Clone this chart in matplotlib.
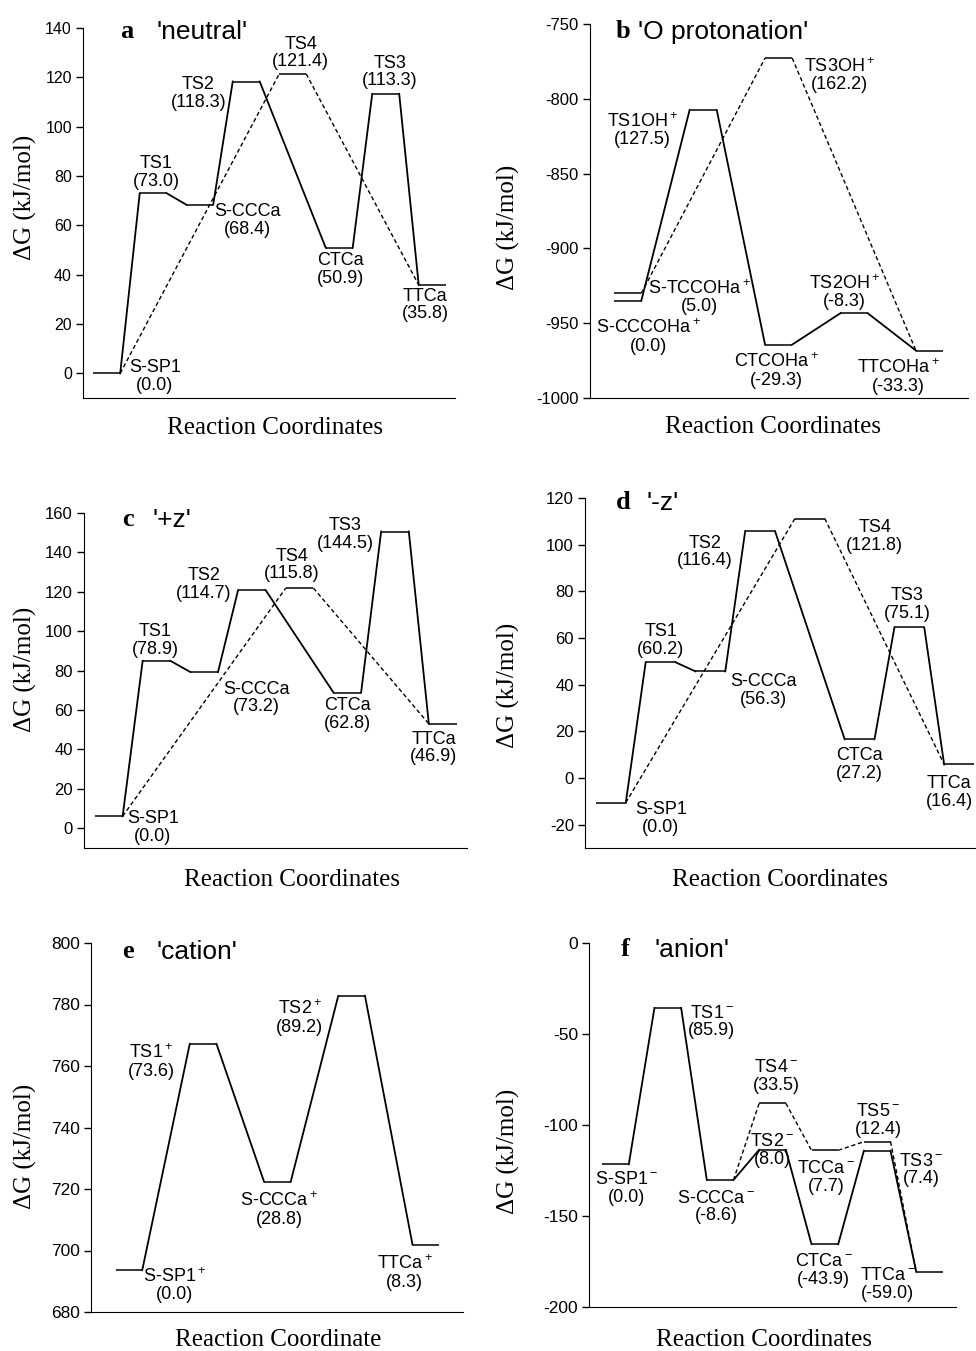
import matplotlib.pyplot as plt

plt.rcParams['font.family'] = ['Liberation Sans', 'DejaVu Sans']
plt.rcParams['mathtext.fontset'] = 'custom'
plt.rcParams['mathtext.rm'] = 'Liberation Sans'
plt.rcParams['mathtext.it'] = 'Liberation Sans:italic'
plt.rcParams['mathtext.bf'] = 'Liberation Sans:bold'
plt.rcParams['axes.unicode_minus'] = False

# ---- data: names, relative energies (labels), drawn level heights, slot index ----
# a 'neutral'
a_names = ['S-SP1', 'TS1', 'S-CCCa', 'TS2', 'TS4', 'CTCa', 'TS3', 'TTCa']
a_rel = [0.0, 73.0, 68.4, 118.3, 121.4, 50.9, 113.3, 35.8]
a_level = [0.0, 73.0, 68.4, 118.3, 121.4, 50.9, 113.3, 35.8]
a_slot = [0, 1, 2, 3, 4, 5, 6, 7]
a_solid = [[0, 1, 2, 3, 5, 6, 7]]
a_dashed = [[0, 4, 7]]
a_ticks = [0, 20, 40, 60, 80, 100, 120, 140]

# b 'O protonation'
b_names = ['S-CCCOHa$^+$', 'S-TCCOHa$^+$', 'TS1OH$^+$', 'TS3OH$^+$',
           'CTCOHa$^+$', 'TS2OH$^+$', 'TTCOHa$^+$']
b_rel = [0.0, 5.0, 127.5, 162.2, -29.3, -8.3, -33.3]
b_level = [-935.0, -930.0, -807.5, -772.8, -964.3, -943.3, -968.3]
b_slot = [0, 0, 1, 2, 2, 3, 4]
b_solid = [[0, 2, 4, 5, 6]]
b_dashed = [[1, 3, 6]]
b_ticks = [-1000, -950, -900, -850, -800, -750]

# c '+z'
c_names = ['S-SP1', 'TS1', 'S-CCCa', 'TS2', 'TS4', 'CTCa', 'TS3', 'TTCa']
c_rel = [0.0, 78.9, 73.2, 114.7, 115.8, 62.8, 144.5, 46.9]
c_level = [6.1, 85.0, 79.3, 120.8, 121.9, 68.9, 150.6, 53.0]
c_slot = [0, 1, 2, 3, 4, 5, 6, 7]
c_solid = [[0, 1, 2, 3, 5, 6, 7]]
c_dashed = [[0, 4, 7]]
c_ticks = [0, 20, 40, 60, 80, 100, 120, 140, 160]

# d '-z'
d_names = ['S-SP1', 'TS1', 'S-CCCa', 'TS2', 'TS4', 'CTCa', 'TS3', 'TTCa']
d_rel = [0.0, 60.2, 56.3, 116.4, 121.8, 27.2, 75.1, 16.4]
d_level = [-10.6, 49.6, 45.7, 105.8, 111.2, 16.6, 64.5, 5.8]
d_slot = [0, 1, 2, 3, 4, 5, 6, 7]
d_solid = [[0, 1, 2, 3, 5, 6, 7]]
d_dashed = [[0, 4, 7]]
d_ticks = [-20, 0, 20, 40, 60, 80, 100, 120]

# e 'cation'
e_names = ['S-SP1$^+$', 'TS1$^+$', 'S-CCCa$^+$', 'TS2$^+$', 'TTCa$^+$']
e_rel = [0.0, 73.6, 28.8, 89.2, 8.3]
e_level = [693.6, 767.2, 722.4, 782.8, 701.9]
e_slot = [0, 1, 2, 3, 4]
e_solid = [[0, 1, 2, 3, 4]]
e_dashed = []
e_ticks = [680, 700, 720, 740, 760, 780, 800]

# f 'anion'
f_names = ['S-SP1$^-$', 'TS1$^-$', 'S-CCCa$^-$', 'TS4$^-$', 'TS2$^-$',
           'TCCa$^-$', 'CTCa$^-$', 'TS5$^-$', 'TS3$^-$', 'TTCa$^-$']
f_rel = [0.0, 85.9, -8.6, 33.5, 8.0, 7.7, -43.9, 12.4, 7.4, -59.0]
f_level = [-121.6, -35.7, -130.2, -88.1, -113.6, -113.9, -165.5, -109.2, -114.2, -180.6]
f_slot = [0, 1, 2, 3, 3, 4, 4, 5, 5, 6]
f_solid = [[0, 1, 2, 4, 6, 8, 9]]
f_dashed = [[2, 3, 5, 7, 9]]
f_ticks = [-200, -150, -100, -50, 0]

# ---- layout: label offsets (pixels) from the middle of each level ----
a_off = [(48, -3), (3, 21), (48, -16), (-48, -12), (8, 21), (1, -22), (4, 22), (-7, -20)]
b_off = [(21, -36), (72, -4), (-61, -20), (61, -17), (-2, -26), (-10, 21), (-31, -26)]
c_off = [(44, -11), (-1, 20), (52, -26), (-48, 6), (-8, 23), (0, -22), (-50, -3), (-9, -24)]
d_off = [(50, -16), (0, 22), (53, -19), (-55, -21), (65, -18), (0, -25), (-2, 23), (-10, -28)]
e_off = [(46, -15), (-52, -18), (2, -28), (-52, -22), (-21, -28)]
f_off = [(11, -24), (44, -14), (-4, -27), (4, 27), (0, -1), (1, -27), (-1, -26),
         (1, 21), (44, -19), (-42, -13)]

fig = plt.figure(figsize=(9.76, 13.51), dpi=100)


def px_axes(l, t, r, b):
    return fig.add_axes([l / 976, 1 - b / 1351, (r - l) / 976, (b - t) / 1351])


def fig_text(x, y, s, **kw):
    fig.text(x / 976, 1 - y / 1351, s, ha='center', va='center', **kw)


panels = [
    # box, xlim, ylim, width, names, rel, level, slot, solid, dashed, ticks, off, letter, title, offsets, tick size
    ((83, 28, 455, 398), (-0.22, 7.78), (-10, 140), 0.58, a_names, a_rel, a_level, a_slot,
     a_solid, a_dashed, a_ticks, a_off, 'a', "'neutral'", (44, -4), (74, -4), 11.5),
    ((590, 24, 968, 398), (-0.32, 4.69), (-1000, -750), 0.36, b_names, b_rel, b_level, b_slot,
     b_solid, b_dashed, b_ticks, b_off, 'b', "'O protonation'", (33, -7), (48, -8), 12),
    ((84, 513, 467, 848), (-0.23, 7.8), (-10, 160), 0.58, c_names, c_rel, c_level, c_slot,
     c_solid, c_dashed, c_ticks, c_off, 'c', "'+z'", (44, -7), (68, -7), 12),
    ((585, 498, 976, 848), (-0.22, 7.64), (-30, 120), 0.6, d_names, d_rel, d_level, d_slot,
     d_solid, d_dashed, d_ticks, d_off, 'd', "'-z'", (38, -5), (61, -5), 12),
    ((91, 943, 463, 1312), (-0.33, 4.68), (680, 800), 0.36, e_names, e_rel, e_level, e_slot,
     e_solid, e_dashed, e_ticks, e_off, 'e', "'cation'", (37, -9), (66, -9), 12.5),
    ((589, 943, 956, 1307), (-0.25, 6.76), (-200, 0), 0.51, f_names, f_rel, f_level, f_slot,
     f_solid, f_dashed, f_ticks, f_off, 'f', "'anion'", (36, -7), (66, -7), 12.5),
]

for (box, xlim, ylim, w, names, rel, level, slot, solid, dashed, ticks, off,
     letter, title, loff, toff, tsize) in panels:
    ax = px_axes(*box)
    for s, e in zip(slot, level):
        ax.plot([s, s + w], [e, e], color='k', lw=1.1, solid_capstyle='butt')
    for path in solid:
        for i, j in zip(path[:-1], path[1:]):
            ax.plot([slot[i] + w, slot[j]], [level[i], level[j]], color='k', lw=1.3)
    for path in dashed:
        for i, j in zip(path[:-1], path[1:]):
            ax.plot([slot[i] + w, slot[j]], [level[i], level[j]], color='k', lw=1.0,
                    linestyle=(0, (3, 2)))
    for n, v, s, e, (dx, dy) in zip(names, rel, slot, level, off):
        ax.annotate(f"{n}\n({v:.1f})", xy=(s + w / 2, e), xytext=(dx, dy),
                    textcoords='offset pixels', ha='center', va='center',
                    fontsize=13, linespacing=1.05)
    ax.annotate(letter, xy=(0, 1), xycoords='axes fraction', xytext=loff,
                textcoords='offset pixels', ha='center', va='center',
                fontfamily='Liberation Serif', fontweight='bold', fontsize=19)
    ax.annotate(title, xy=(0, 1), xycoords='axes fraction', xytext=toff,
                textcoords='offset pixels', ha='left', va='center', fontsize=19)
    ax.set_xlim(*xlim)
    ax.set_ylim(*ylim)
    ax.set_yticks(ticks)
    ax.set_xticks([])
    ax.spines['top'].set_visible(False)
    ax.spines['right'].set_visible(False)
    ax.tick_params(axis='y', direction='out', length=5, width=1, labelsize=tsize, pad=3)
    ax.patch.set_alpha(0)

# axis titles
for x, y in [(25, 197), (508, 227), (25, 669), (508, 685), (25, 1146), (508, 1151)]:
    fig_text(x, y, 'ΔG (kJ/mol)', rotation=90, fontfamily='Liberation Serif', fontsize=18)
fig_text(275, 428, 'Reaction Coordinates', fontfamily='Liberation Serif', fontsize=18)
fig_text(773, 427, 'Reaction Coordinates', fontfamily='Liberation Serif', fontsize=18)
fig_text(292, 880, 'Reaction Coordinates', fontfamily='Liberation Serif', fontsize=18)
fig_text(780, 880, 'Reaction Coordinates', fontfamily='Liberation Serif', fontsize=18)
fig_text(278, 1340, 'Reaction Coordinate', fontfamily='Liberation Serif', fontsize=18)
fig_text(764, 1340, 'Reaction Coordinates', fontfamily='Liberation Serif', fontsize=18)

fig.savefig('out.png', dpi=100)
